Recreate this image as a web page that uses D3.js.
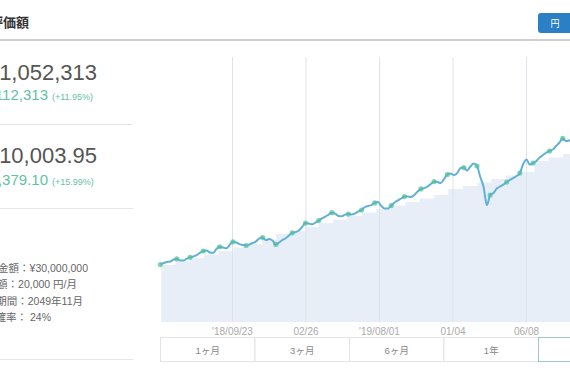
<!DOCTYPE html>
<html>
<head>
<meta charset="utf-8">
<script src="https://cdn.jsdelivr.net/npm/d3@7"></script>
<style>
  html, body { margin: 0; padding: 0; background: #fff; }
  svg { display: block; }
  .num { font-family: "Liberation Sans", Arial, "Noto Sans CJK JP", sans-serif; }
  .jp { font-family: "Liberation Sans", Arial, "Noto Sans CJK JP", sans-serif; }
</style>
</head>
<body>
<svg id="chart" width="570" height="375"></svg>
<script>
// ---- data ----
const lineStart = new Date(2018, 3, 24);   // weekly valuation samples from this date
const lineStepDays = 7;
// valuation (thousand yen), weekly
const lineValues = [
  325,334,340,342,354,357,348,348,359,366,371,379,391,402,405,393,391,413,426,422,
  417,436,454,450,441,436,433,439,447,456,473,478,464,470,461,439,450,464,474,490,
  505,509,518,538,560,558,553,563,574,586,596,608,619,614,600,598,608,611,608,614,
  625,634,651,657,662,674,679,657,642,642,659,676,688,699,710,710,708,719,739,753,
  758,767,781,795,792,787,809,835,841,832,843,872,874,857,880,897,883,821,764,662,
  719,730,756,767,778,792,804,815,826,843,894,920,891,900,911,931,945,959,968,976,
  996,1016,1039,1024,1027,1036,1041,1046,1052
];
// invested principal (thousand yen), monthly
const principalStart = new Date(2018, 3, 26);
const principalValues = [
  323,342,362,382,402,422,441,464,498,515,538,560,580,600,620,640,659,679,699,719,
  753,770,790,809,829,849,911,931,951,971
];
const tickDates = ["2018-09-23", "2019-02-26", "2019-08-01", "2020-01-04", "2020-06-08"];
const tickLabels = ["'18/09/23", "02/26", "'19/08/01", "01/04", "06/08"];
const rangeButtons = ["1ヶ月", "3ヶ月", "6ヶ月", "1年", "全期間"];

const summary = [
  { value: "¥1,052,313", change: "+¥112,313", pct: "(+11.95%)" },
  { value: "$10,003.95", change: "+$1,379.10", pct: "(+15.99%)" }
];
const goalLines = ["目標金額：¥30,000,000", "毎月積立額：20,000 円/月", "目標期間：2049年11月", "達成確率： 24%"];

// ---- build ----
const parse = d3.timeParse("%Y-%m-%d");
const lineData = lineValues.map((v, i) => ({ date: d3.timeDay.offset(lineStart, i * lineStepDays), v }));
const principalData = principalValues.map((v, i) => ({ date: d3.timeMonth.offset(principalStart, i), v }));
const ticks = tickDates.map(parse);

const svg = d3.select("#chart");

const plotTop = 57, plotBottom = 322;
const x = d3.scaleTime().domain([ticks[0], ticks[4]]).range([232, 526]);
const y = d3.scaleLinear().domain([0, 1500]).range([plotBottom, plotTop]);

// header
svg.append("text").attr("class", "jp").attr("x", -36).attr("y", 27)
  .attr("font-size", 13).attr("font-weight", "bold").attr("fill", "#333").text("資産評価額");
svg.append("rect").attr("x", 0).attr("y", 39).attr("width", 570).attr("height", 2).attr("fill", "#cfcfcf");
svg.append("rect").attr("x", 538).attr("y", 13).attr("width", 40).attr("height", 20).attr("rx", 3).attr("fill", "#2b80c5");
svg.append("text").attr("class", "jp").attr("x", 555).attr("y", 27).attr("font-size", 9)
  .attr("fill", "#fff").attr("text-anchor", "middle").text("円");

// left summary
const sumY = [80, 163];
summary.forEach((s, i) => {
  svg.append("text").attr("class", "num").attr("x", 97).attr("y", sumY[i]).attr("text-anchor", "end")
    .attr("font-size", 22).attr("fill", "#555").text(s.value);
  svg.append("text").attr("class", "num").attr("x", 48).attr("y", sumY[i] + 20 + i * 2).attr("text-anchor", "end")
    .attr("font-size", 15).attr("fill", "#5fc2a2").text(s.change);
  svg.append("text").attr("class", "num").attr("x", 52).attr("y", sumY[i] + 20 + i * 2)
    .attr("font-size", 9).attr("fill", "#5fc2a2").text(s.pct);
});
[124, 208, 359].forEach(yy => {
  svg.append("rect").attr("x", 0).attr("y", yy).attr("width", 133).attr("height", 1).attr("fill", "#e6e6e6");
});
const goalRight = [88, 77, 83, 51];
goalLines.forEach((t, i) => {
  svg.append("text").attr("class", "jp").attr("x", goalRight[i]).attr("y", 272 + i * 16.3)
    .attr("text-anchor", "end").attr("font-size", 10.5).attr("fill", "#666").text(t);
});

// chart
const plot = svg.append("g");

plot.append("path").datum(principalData)
  .attr("fill", "#e7eef7")
  .attr("d", d3.area().curve(d3.curveStepAfter).x(d => x(d.date)).y0(plotBottom).y1(d => y(d.v)));

plot.selectAll("line.grid").data(ticks).join("line").attr("class", "grid")
  .attr("x1", d => x(d) + 0.5).attr("x2", d => x(d) + 0.5)
  .attr("y1", plotTop).attr("y2", plotBottom)
  .attr("stroke", "#dfe3e8").attr("stroke-width", 1);

plot.append("path").datum(lineData)
  .attr("fill", "none").attr("stroke", "#62b0da").attr("stroke-width", 2)
  .attr("stroke-linejoin", "round")
  .attr("d", d3.line().curve(d3.curveMonotoneX).x(d => x(d.date)).y(d => y(d.v)));

const bis = d3.bisector(d => d.date).center;
const markerData = principalData.map(p => lineData[bis(lineData, p.date)]);
plot.selectAll("circle.mk").data(markerData).join("circle").attr("class", "mk")
  .attr("cx", d => x(d.date)).attr("cy", d => y(d.v)).attr("r", 2.6)
  .attr("fill", "#4fbf9a").attr("opacity", 0.7);

// axis
const axis = d3.axisBottom(x).tickValues(ticks).tickSize(0)
  .tickFormat((d, i) => tickLabels[i]);
const ag = svg.append("g").attr("transform", `translate(0,${plotBottom + 1})`).call(axis);
ag.select(".domain").remove();
ag.selectAll("text").attr("font-size", 10).attr("fill", "#aaa")
  .attr("font-family", "Liberation Sans, Arial, sans-serif").attr("dy", "0.9em");

// range buttons
const bw = 94.5, bx0 = 160.5, by = 337.5, bh = 24;
const bg = svg.append("g");
bg.selectAll("rect").data(rangeButtons).join("rect")
  .attr("x", (d, i) => bx0 + i * bw).attr("y", by).attr("width", bw).attr("height", bh)
  .attr("fill", "#fff")
  .attr("stroke", (d, i) => i === rangeButtons.length - 1 ? "#9fc7c6" : "#e3e3e3")
  .attr("stroke-width", 1);
bg.selectAll("text").data(rangeButtons).join("text").attr("class", "jp")
  .attr("x", (d, i) => bx0 + i * bw + bw / 2).attr("y", by + 16)
  .attr("text-anchor", "middle").attr("font-size", 9.5).attr("fill", "#888").text(d => d);
</script>
</body>
</html>
